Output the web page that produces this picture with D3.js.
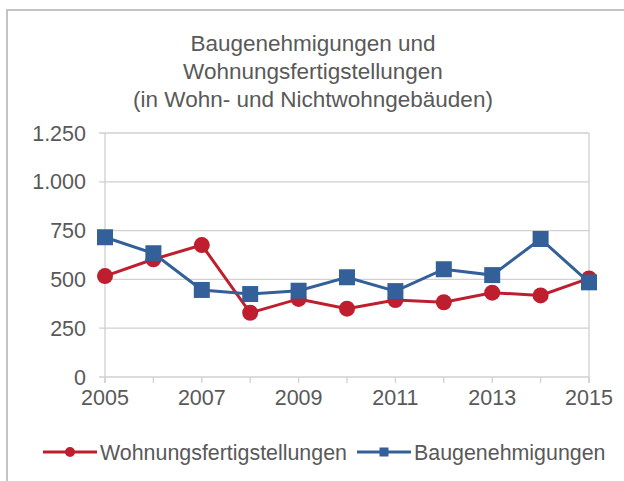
<!DOCTYPE html>
<html>
<head>
<meta charset="utf-8">
<script src="https://cdn.jsdelivr.net/npm/d3@7"></script>
<style>
  body { margin: 0; background: #fff; }
  svg { font-family: "Liberation Sans", Arial, sans-serif; }
</style>
</head>
<body>
<svg id="chart" width="624" height="481"></svg>
<script>
const years = [2005, 2006, 2007, 2008, 2009, 2010, 2011, 2012, 2013, 2014, 2015];
const fertig = [517, 603, 676, 329, 400, 350, 394, 383, 432, 418, 505];
const genehm = [716, 634, 446, 425, 442, 511, 440, 552, 522, 707, 485];
const yTicks = [0, 250, 500, 750, 1000, 1250];
const xTicks = [2005, 2007, 2009, 2011, 2013, 2015];
const titleLines = ["Baugenehmigungen und", "Wohnungsfertigstellungen", "(in Wohn- und Nichtwohngebäuden)"];

const series = [
    { name: "Wohnungsfertigstellungen", values: fertig, color: "#be1e2d", shape: "circle" },
    { name: "Baugenehmigungen", values: genehm, color: "#34609a", shape: "square" }
];

const svg = d3.select("#chart");
const textColor = "#595959";
const gridColor = "#d0d0d0";

// outer frame (only top and left visible)
svg.append("path")
    .attr("d", "M7,481 V10 H624")
    .attr("fill", "none")
    .attr("stroke", "#c4c4c4")
    .attr("stroke-width", 2);

svg.append("g").selectAll("text")
    .data(titleLines)
    .join("text")
    .attr("x", 313)
    .attr("y", (d, i) => 51 + i * 28)
    .attr("text-anchor", "middle")
    .attr("font-size", 22.5)
    .attr("fill", textColor)
    .text(d => d);

const x = d3.scaleLinear().domain([2005, 2015]).range([105, 589]);
const y = d3.scaleLinear().domain([0, 1250]).range([377, 133]);

// horizontal gridlines
svg.append("g").selectAll("line")
    .data(yTicks)
    .join("line")
    .attr("x1", x(2005) - 6).attr("x2", x(2015))
    .attr("y1", d => y(d)).attr("y2", d => y(d))
    .attr("stroke", gridColor).attr("stroke-width", 1.3);

// left and right plot edges
svg.append("g").selectAll("line")
    .data([2005, 2015])
    .join("line")
    .attr("x1", d => x(d)).attr("x2", d => x(d))
    .attr("y1", y(1250)).attr("y2", y(0) + 6)
    .attr("stroke", gridColor).attr("stroke-width", 1.3);

// x tick marks
svg.append("g").selectAll("line")
    .data(years)
    .join("line")
    .attr("x1", d => x(d)).attr("x2", d => x(d))
    .attr("y1", y(0)).attr("y2", y(0) + 6)
    .attr("stroke", gridColor).attr("stroke-width", 1.3);

const fmt = v => d3.format(",")(v).replace(/,/g, ".");

svg.append("g").selectAll("text")
    .data(yTicks)
    .join("text")
    .attr("x", 86)
    .attr("y", d => y(d))
    .attr("dy", "0.35em")
    .attr("text-anchor", "end")
    .attr("font-size", 21.5)
    .attr("fill", textColor)
    .text(fmt);

svg.append("g").selectAll("text")
    .data(xTicks)
    .join("text")
    .attr("x", d => x(d))
    .attr("y", 405)
    .attr("text-anchor", "middle")
    .attr("font-size", 21.5)
    .attr("fill", textColor)
    .text(d => d);

const line = d3.line().x((d, i) => x(years[i])).y(d => y(d));

function marker(g, shape, color, size) {
    if (shape === "circle") {
        g.append("circle").attr("r", size / 2).attr("fill", color);
    } else {
        g.append("rect")
            .attr("x", -size / 2).attr("y", -size / 2)
            .attr("width", size).attr("height", size)
            .attr("fill", color);
    }
}

series.forEach(s => {
    svg.append("path")
        .datum(s.values)
        .attr("d", line)
        .attr("fill", "none")
        .attr("stroke", s.color)
        .attr("stroke-width", 3);
    s.values.forEach((v, i) => {
        const g = svg.append("g").attr("transform", `translate(${x(years[i])},${y(v)})`);
        marker(g, s.shape, s.color, 16);
    });
});

// legend
const legendX = [43, 357];
series.forEach((s, i) => {
    const g = svg.append("g").attr("transform", `translate(${legendX[i]},452)`);
    g.append("line").attr("x1", 0).attr("x2", 54)
        .attr("stroke", s.color).attr("stroke-width", 3);
    const m = g.append("g").attr("transform", "translate(27,0)");
    marker(m, s.shape, s.color, s.shape === "circle" ? 10 : 9);
    g.append("text")
        .attr("x", 57)
        .attr("dy", "0.35em")
        .attr("font-size", 21.4)
        .attr("fill", textColor)
        .text(s.name);
});
</script>
</body>
</html>
